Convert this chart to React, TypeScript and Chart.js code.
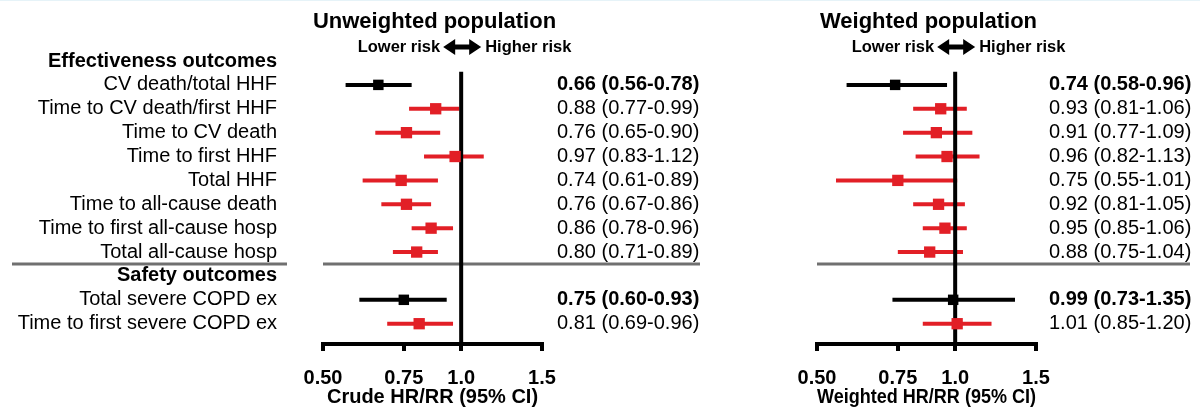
import React, { useEffect, useRef } from 'react';
import { Chart, registerables } from 'chart.js';

Chart.register(...registerables);

const FONT = '"Liberation Sans", Arial, Helvetica, sans-serif';
const RED = '#e21f26';
const BLACK = '#000000';
const GRAY = '#707070';

// ---- Data ----
const rowLabels = [
  'Effectiveness outcomes',
  'CV death/total HHF',
  'Time to CV death/first HHF',
  'Time to CV death',
  'Time to first HHF',
  'Total HHF',
  'Time to all-cause death',
  'Time to first all-cause hosp',
  'Total all-cause hosp',
  'Safety outcomes',
  'Total severe COPD ex',
  'Time to first severe COPD ex',
];
const headerRows = [0, 9];
const outcomeRows = [1, 2, 3, 4, 5, 6, 7, 8, 10, 11];
const primaryOutcome = [true, false, false, false, false, false, false, false, true, false];

const crudeHR = [0.66, 0.88, 0.76, 0.97, 0.74, 0.76, 0.86, 0.8, 0.75, 0.81];
const crudeLo = [0.56, 0.77, 0.65, 0.83, 0.61, 0.67, 0.78, 0.71, 0.6, 0.69];
const crudeHi = [0.78, 0.99, 0.9, 1.12, 0.89, 0.86, 0.96, 0.89, 0.93, 0.96];

const weightedHR = [0.74, 0.93, 0.91, 0.96, 0.75, 0.92, 0.95, 0.88, 0.99, 1.01];
const weightedLo = [0.58, 0.81, 0.77, 0.82, 0.55, 0.81, 0.85, 0.75, 0.73, 0.85];
const weightedHi = [0.96, 1.06, 1.09, 1.13, 1.01, 1.05, 1.06, 1.04, 1.35, 1.2];

const xTickValues = [0.5, 0.75, 1.0, 1.5];
const xTickLabels = ['0.50', '0.75', '1.0', '1.5'];
const X_MIN = 0.5;
const X_MAX = 1.5;
const Y_MIN = 0;
const Y_MAX = 11.85;
const SEPARATOR_ROW = 8.5;
const REF_LINE_TOP = 0.45;
const NULL_VALUE = 1.0;

type PanelProps = {
  left: number;
  width: number;
  areaLeft: number;
  areaRight: number;
  showRowLabels: boolean;
  labelPadding: number;
  ciPadding: number;
  title: string;
  axisTitle: string;
  hr: number[];
  lo: number[];
  hi: number[];
  separators: [number, number][];
};

const HEIGHT = 409;

function drawArrow(ctx: CanvasRenderingContext2D, cx: number, cy: number) {
  const W = 38, H = 16, t = 5, hl = 12;
  const l = cx - W / 2, r = cx + W / 2;
  ctx.beginPath();
  ctx.moveTo(l, cy);
  ctx.lineTo(l + hl, cy - H / 2);
  ctx.lineTo(l + hl, cy - t / 2);
  ctx.lineTo(r - hl, cy - t / 2);
  ctx.lineTo(r - hl, cy - H / 2);
  ctx.lineTo(r, cy);
  ctx.lineTo(r - hl, cy + H / 2);
  ctx.lineTo(r - hl, cy + t / 2);
  ctx.lineTo(l + hl, cy + t / 2);
  ctx.lineTo(l + hl, cy + H / 2);
  ctx.closePath();
  ctx.fillStyle = BLACK;
  ctx.fill();
}

function Panel(p: PanelProps) {
  const ref = useRef<HTMLCanvasElement | null>(null);
  useEffect(() => {
    if (!ref.current) return;
    const ciLabels = p.hr.map(
      (v, i) => `${v.toFixed(2)} (${p.lo[i].toFixed(2)}-${p.hi[i].toFixed(2)})`
    );
    const colorFor = (i: number) => (primaryOutcome[i] ? BLACK : RED);

    const datasets: any[] = [];
    datasets.push({
      type: 'scatter',
      data: outcomeRows.map((r, i) => ({ x: p.hr[i], y: r })),
      pointStyle: 'rect',
      pointRadius: outcomeRows.map((_, i) => (primaryOutcome[i] ? 7.4 : 8)),
      pointBorderWidth: 0,
      backgroundColor: outcomeRows.map((_, i) => colorFor(i)),
      borderColor: outcomeRows.map((_, i) => colorFor(i)),
      order: 0,
    });
    datasets.push({
      type: 'line',
      data: [
        { x: NULL_VALUE, y: REF_LINE_TOP },
        { x: NULL_VALUE, y: Y_MAX },
      ],
      borderColor: BLACK,
      borderWidth: 4,
      pointRadius: 0,
      order: 1,
    });
    outcomeRows.forEach((r, i) => {
      datasets.push({
        type: 'line',
        data: [
          { x: p.lo[i], y: r },
          { x: p.hi[i], y: r },
        ],
        borderColor: colorFor(i),
        borderWidth: 4,
        pointRadius: 0,
        order: 2,
      });
    });

    const panelPlugin = {
      id: 'panelDecor',
      beforeDatasetsDraw(chart: any) {
        const ctx = chart.ctx as CanvasRenderingContext2D;
        const y = chart.scales.y.getPixelForValue(SEPARATOR_ROW);
        ctx.save();
        ctx.strokeStyle = GRAY;
        ctx.lineWidth = 3;
        p.separators.forEach(([a, b]) => {
          ctx.beginPath();
          ctx.moveTo(a, y);
          ctx.lineTo(b, y);
          ctx.stroke();
        });
        ctx.restore();
      },
      afterDraw(chart: any) {
        const ctx = chart.ctx as CanvasRenderingContext2D;
        const area = chart.chartArea;
        const xs = chart.scales.x;
        ctx.save();
        ctx.fillStyle = BLACK;
        ctx.textBaseline = 'middle';
        ctx.font = `bold 22px ${FONT}`;
        ctx.textAlign = 'center';
        ctx.fillText(p.title, (area.left + area.right) / 2 + 2, 22);
        const cx = xs.getPixelForValue(NULL_VALUE) + 1;
        const cy = 47;
        drawArrow(ctx, cx, cy);
        ctx.font = `bold 16.5px ${FONT}`;
        ctx.fillStyle = BLACK;
        ctx.textAlign = 'right';
        ctx.fillText('Lower risk', cx - 22, cy);
        ctx.textAlign = 'left';
        ctx.fillText('Higher risk', cx + 23, cy);
        ctx.restore();
      },
    };

    const chart = new Chart(ref.current, {
      type: 'scatter',
      data: { datasets },
      plugins: [panelPlugin],
      options: {
        animation: false,
        responsive: false,
        events: [],
        layout: { padding: { top: 61, bottom: 0, left: 0, right: 0 } },
        plugins: {
          legend: { display: false },
          tooltip: { enabled: false },
        },
        scales: {
          x: {
            type: 'logarithmic',
            position: 'bottom',
            min: X_MIN,
            max: X_MAX,
            afterFit: (s: any) => {
              s.height = HEIGHT - 344;
            },
            afterBuildTicks: (s: any) => {
              s.ticks = xTickValues.map((v) => ({ value: v }));
            },
            ticks: {
              autoSkip: false,
              maxRotation: 0,
              padding: 15,
              color: BLACK,
              font: { family: FONT, size: 20, weight: 'bold' },
              callback: (v: any) => {
                const k = xTickValues.indexOf(Number(v));
                return k >= 0 ? xTickLabels[k] : '';
              },
            },
            grid: {
              display: true,
              drawOnChartArea: false,
              drawTicks: true,
              tickLength: 7,
              lineWidth: 4,
              color: BLACK,
              tickWidth: 4,
              tickColor: BLACK,
            },
            border: { display: true, width: 4, color: BLACK },
            title: {
              display: true,
              text: p.axisTitle,
              color: BLACK,
              font: { family: FONT, size: 20, weight: 'bold' },
              padding: { top: 0, bottom: 0 },
            },
          } as any,
          y: {
            type: 'linear',
            position: 'left',
            reverse: true,
            min: Y_MIN,
            max: Y_MAX,
            afterFit: (s: any) => {
              s.width = p.areaLeft;
            },
            afterBuildTicks: (s: any) => {
              s.ticks = rowLabels.map((_, i) => ({ value: i }));
            },
            ticks: {
              autoSkip: false,
              padding: p.labelPadding,
              color: BLACK,
              font: (c: any) => ({
                family: FONT,
                size: 20,
                weight: headerRows.includes(c.tick ? c.tick.value : -1) ? 'bold' : 'normal',
              }),
              callback: (v: any) => (p.showRowLabels ? rowLabels[Number(v)] ?? '' : ''),
            },
            grid: { display: false, drawTicks: false },
            border: { display: false },
          } as any,
          y2: {
            type: 'linear',
            position: 'right',
            reverse: true,
            min: Y_MIN,
            max: Y_MAX,
            afterFit: (s: any) => {
              s.width = p.width - p.areaRight;
            },
            afterBuildTicks: (s: any) => {
              s.ticks = outcomeRows.map((v) => ({ value: v }));
            },
            ticks: {
              autoSkip: false,
              padding: p.ciPadding,
              color: BLACK,
              font: (c: any) => {
                const k = outcomeRows.indexOf(c.tick ? c.tick.value : -1);
                return {
                  family: FONT,
                  size: 20,
                  weight: k >= 0 && primaryOutcome[k] ? 'bold' : 'normal',
                };
              },
              callback: (v: any) => {
                const k = outcomeRows.indexOf(Number(v));
                return k >= 0 ? ciLabels[k] : '';
              },
            },
            grid: { display: false, drawTicks: false },
            border: { display: false },
          } as any,
        },
      } as any,
    });
    return () => chart.destroy();
  }, []);

  return (
    <canvas
      ref={ref}
      width={p.width}
      height={HEIGHT}
      style={{ position: 'absolute', left: p.left, top: 0, width: p.width, height: HEIGHT, display: 'block' }}
    />
  );
}

export default function App() {
  return (
    <div
      style={{
        position: 'fixed',
        left: 0,
        top: 0,
        width: 1200,
        height: HEIGHT,
        background: '#ffffff',
        overflow: 'hidden',
      }}
    >
      <Panel
        left={0}
        width={780}
        areaLeft={323}
        areaRight={542}
        showRowLabels={true}
        labelPadding={46}
        ciPadding={15}
        title="Unweighted population"
        axisTitle="Crude HR/RR (95% CI)"
        hr={crudeHR}
        lo={crudeLo}
        hi={crudeHi}
        separators={[
          [12, 287],
          [323, 700],
        ]}
      />
      <Panel
        left={780}
        width={420}
        areaLeft={37}
        areaRight={256}
        showRowLabels={false}
        labelPadding={0}
        ciPadding={13}
        title="Weighted population"
        axisTitle="Weighted HR/RR (95% CI)"
        hr={weightedHR}
        lo={weightedLo}
        hi={weightedHi}
        separators={[[37, 410]]}
      />
      <div
        style={{
          position: 'absolute',
          left: 0,
          top: 0,
          width: 1200,
          height: 1,
          background: '#e6f3f8',
        }}
      />
    </div>
  );
}
